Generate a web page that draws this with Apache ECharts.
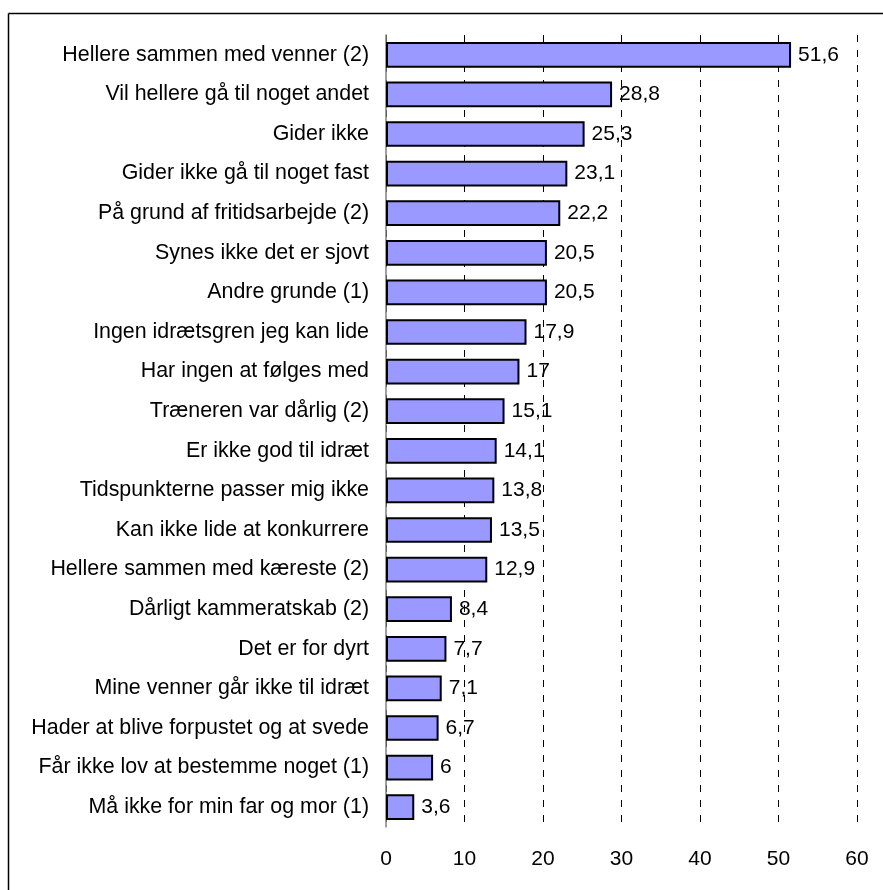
<!DOCTYPE html>
<html>
<head>
<meta charset="utf-8">
<script src="https://cdn.jsdelivr.net/npm/echarts@6/dist/echarts.min.js"></script>
<style>html,body{margin:0;padding:0;background:#fff}#c{width:883px;height:890px}</style>
</head>
<body>
<div id="c"></div>
<script>
const categories = [
  "Hellere sammen med venner (2)",
  "Vil hellere gå til noget andet",
  "Gider ikke",
  "Gider ikke gå til noget fast",
  "På grund af fritidsarbejde (2)",
  "Synes ikke det er sjovt",
  "Andre grunde (1)",
  "Ingen idrætsgren jeg kan lide",
  "Har ingen at følges med",
  "Træneren var dårlig (2)",
  "Er ikke god til idræt",
  "Tidspunkterne passer mig ikke",
  "Kan ikke lide at konkurrere",
  "Hellere sammen med kæreste (2)",
  "Dårligt kammeratskab (2)",
  "Det er for dyrt",
  "Mine venner går ikke til idræt",
  "Hader at blive forpustet og at svede",
  "Får ikke lov at bestemme noget (1)",
  "Må ikke for min far og mor (1)"
];
const values = [51.6, 28.8, 25.3, 23.1, 22.2, 20.5, 20.5, 17.9, 17, 15.1, 14.1, 13.8, 13.5, 12.9, 8.4, 7.7, 7.1, 6.7, 6, 3.6];
const xTicks = [0, 10, 20, 30, 40, 50, 60];

const chart = echarts.init(document.getElementById('c'), null, {renderer: 'canvas'});
const font = '"Liberation Sans", Arial, sans-serif';
chart.setOption({
  animation: false,
  backgroundColor: '#ffffff',
  graphic: [
    {type: 'line', shape: {x1: 8.5, y1: 13.5, x2: 883, y2: 13.5}, style: {stroke: '#000', lineWidth: 1.5}},
    {type: 'line', shape: {x1: 8.5, y1: 13.5, x2: 8.5, y2: 890}, style: {stroke: '#000', lineWidth: 1.5}}
  ],
  grid: {left: 386, right: 26, top: 35, bottom: 63, containLabel: false},
  xAxis: {
    type: 'value', min: xTicks[0], max: xTicks[xTicks.length - 1], interval: 10,
    axisLine: {show: false}, axisTick: {show: false},
    splitLine: {show: true, lineStyle: {color: '#000', type: [7, 8], width: 1}},
    axisLabel: {fontFamily: font, fontSize: 21, color: '#000', margin: 22}
  },
  yAxis: {
    type: 'category', data: categories, inverse: true,
    axisLine: {show: true, lineStyle: {color: '#808080', width: 1.5}},
    axisTick: {show: false},
    axisLabel: {fontFamily: font, fontSize: 21.4, color: '#000', margin: 17}
  },
  series: [{
    type: 'bar', data: values, barCategoryGap: '35%',
    itemStyle: {color: '#9999FF', borderColor: '#000', borderWidth: 2},
    label: {
      show: true, position: 'right', distance: 7, fontFamily: font, fontSize: 21, color: '#000',
      formatter: p => String(p.value).replace('.', ',')
    }
  }]
});
</script>
</body>
</html>
